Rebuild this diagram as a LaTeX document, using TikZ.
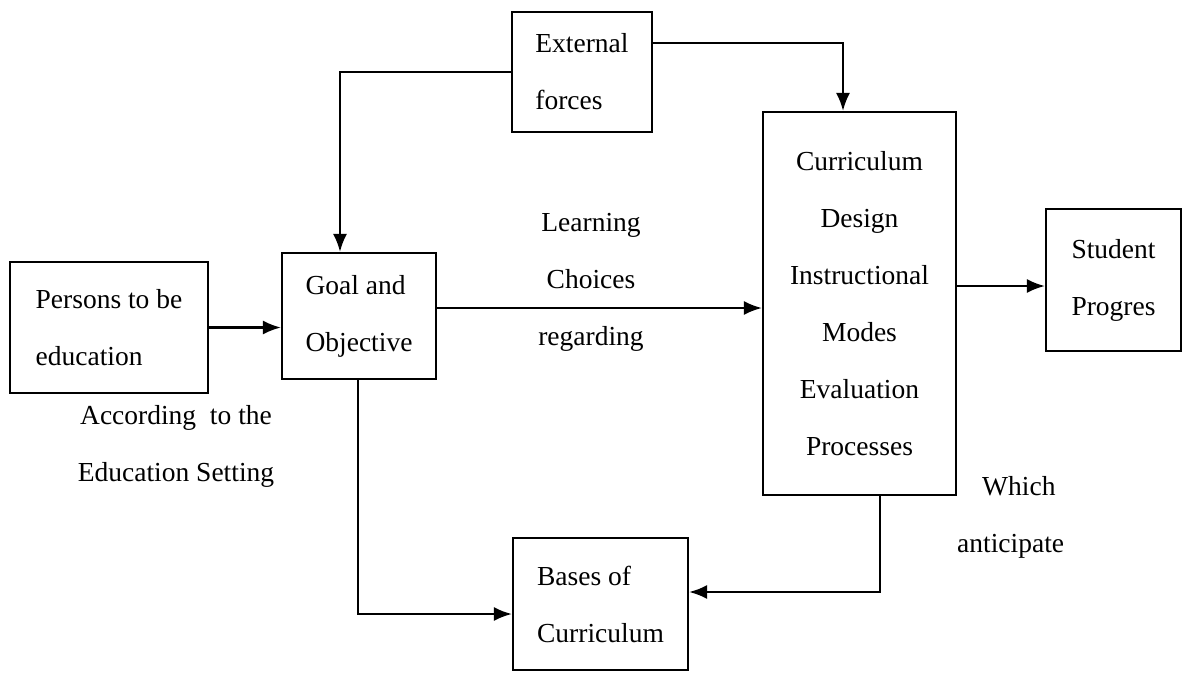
\documentclass[tikz,border=0pt]{standalone}
\usepackage{fontspec}
\setmainfont{Liberation Serif}
\usetikzlibrary{arrows.meta}
\newcommand\diafont{\fontsize{27.5}{57}\selectfont}
\tikzset{
  box/.style={draw, line width=2.2pt, inner sep=0pt, font=\diafont, align=left},
  cbox/.style={box, align=center},
  lbl/.style={inner sep=0pt, font=\diafont, align=center},
  conn/.style={line width=2.2pt, -{Latex[length=18pt,width=14pt]}}
}
\begin{document}
\begin{tikzpicture}[x=1pt,y=-1pt]
\useasboundingbox[fill=white] (0,0) rectangle (1193,673);
% boxes
\node[box, minimum width=198pt, minimum height=131pt] (per) at (109,327.5) {Persons to be\\education};
\node[box, minimum width=154pt, minimum height=126pt] (goal) at (359,316) {Goal and\\Objective};
\node[box, minimum width=140pt, minimum height=120pt] (ext) at (582,72) {External\\forces};
\node[cbox, minimum width=193pt, minimum height=383pt] (cur) at (859.5,303.5) {Curriculum\\Design\\Instructional\\Modes\\Evaluation\\Processes};
\node[cbox, minimum width=135pt, minimum height=142pt] (stu) at (1113.5,280) {Student\\Progres};
\node[box, minimum width=175pt, minimum height=132pt] (bas) at (600.5,604) {Bases of\\Curriculum};
% labels
\node[lbl] (setting) at (176,446) {According~ to the\\Education Setting};
\node[lbl] (lcr) at (591,282) {Learning\\Choices\\regarding};
\node[lbl, align=left, anchor=north west] (wa) at (957,476) {\hspace*{25pt}Which\\anticipate};
% connector bends
\coordinate (c1) at (340,72);
\coordinate (c2) at (843,43);
\coordinate (c3) at (0,308);
\coordinate (c6) at (0,286);
\coordinate (c4) at (358,614);
\coordinate (c5) at (880,592);
% connectors
\draw[conn] (ext.west |- c1) -- (c1) -- (goal.north -| c1);
\draw[conn] (ext.east |- c2) -- (c2) -- (cur.north -| c2);
\draw[conn] (per.east) -- (goal.west |- per.east);
\draw[conn] (goal.east |- c3) -- (cur.west |- c3);
\draw[conn] (cur.east |- c6) -- (stu.west |- c6);
\draw[conn] (goal.south -| c4) -- (c4) -- (bas.west |- c4);
\draw[conn] (cur.south -| c5) -- (c5) -- (bas.east |- c5);
\end{tikzpicture}
\end{document}
